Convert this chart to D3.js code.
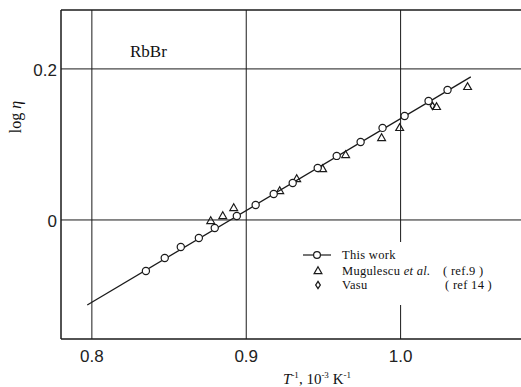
<!DOCTYPE html>
<html lang="en">
<head>
  <meta charset="UTF-8">
  <title>RbBr viscosity</title>
  <style>
    body { margin: 0; background: #fff; }
    .tick-label { font-family: 'Liberation Sans', Arial, sans-serif; font-size: 17px; fill: #222; }
    .serif { font-family: 'Liberation Serif', 'DejaVu Serif', serif; fill: #111; }
  </style>
</head>
<body>
  <div class="canvas"></div>
  <script src="https://d3js.org/d3.v7.min.js"></script>
  <script>
    // this work (circles)
    const workX = [0.835, 0.8472, 0.8576, 0.8693, 0.8796, 0.8939, 0.9061, 0.9178, 0.9301, 0.9463, 0.9586, 0.9741, 0.9883, 1.0026, 1.0181, 1.0304];
    const workY = [-0.0675, -0.0503, -0.0358, -0.0238, -0.0106, 0.0053, 0.0199, 0.0344, 0.049, 0.0689, 0.0848, 0.1033, 0.1219, 0.1377, 0.1576, 0.1722];
    // Mugulescu et al. (triangles)
    const mugX = [0.877, 0.8848, 0.8919, 0.9217, 0.9327, 0.9495, 0.9644, 0.9877, 0.9994, 1.0233, 1.0434];
    const mugY = [-0.0013, 0.0053, 0.0159, 0.0384, 0.0543, 0.0675, 0.0861, 0.1086, 0.1219, 0.1497, 0.1762];
    // Vasu (diamond)
    const vasuX = [1.0207];
    const vasuY = [0.151];
    // fitted line end points
    const fitX = [0.797, 1.0455];
    const fitY = [-0.1126, 0.1894];

    const xTicks = [0.8, 0.9, 1.0];
    const xTickLabels = ['0.8', '0.9', '1.0'];
    const yTicks = [0, 0.2];
    const yTickLabels = ['0', '0.2'];

    const width = 521;
    const height = 387;
    const margin = {top: 10, right: 0, bottom: 48, left: 61};

    const svg = d3.select('.canvas')
      .append('svg')
      .attr('width', width)
      .attr('height', height);

    const x = d3.scaleLinear()
      .domain([0.78, 1.078])
      .range([margin.left, width - margin.right]);

    const y = d3.scaleLinear()
      .domain([-0.1576, 0.278])
      .range([height - margin.bottom, margin.top]);

    const ink = '#1a1a1a';

    // grid lines
    svg.selectAll('line.vgrid')
      .data(xTicks)
      .enter()
      .append('line')
      .attr('class', 'vgrid')
      .attr('x1', d => x(d)).attr('x2', d => x(d))
      .attr('y1', y.range()[1]).attr('y2', y.range()[0])
      .attr('stroke', ink)
      .attr('stroke-width', 1);

    svg.selectAll('line.hgrid')
      .data(yTicks)
      .enter()
      .append('line')
      .attr('class', 'hgrid')
      .attr('x1', x.range()[0]).attr('x2', x.range()[1])
      .attr('y1', d => y(d)).attr('y2', d => y(d))
      .attr('stroke', ink)
      .attr('stroke-width', 1);

    // frame: left, top, bottom
    const frame = svg.append('g')
      .attr('stroke', ink)
      .attr('stroke-width', 1.5);
    frame.append('line')
      .attr('x1', x.range()[0]).attr('x2', x.range()[0])
      .attr('y1', y.range()[1]).attr('y2', y.range()[0]);
    frame.append('line')
      .attr('x1', x.range()[0]).attr('x2', x.range()[1])
      .attr('y1', y.range()[1]).attr('y2', y.range()[1]);
    frame.append('line')
      .attr('x1', x.range()[0]).attr('x2', x.range()[1])
      .attr('y1', y.range()[0]).attr('y2', y.range()[0]);

    // tick labels
    svg.selectAll('text.xt')
      .data(xTicks)
      .enter()
      .append('text')
      .attr('class', 'tick-label xt')
      .attr('x', d => x(d))
      .attr('y', y.range()[0] + 23)
      .attr('text-anchor', 'middle')
      .text((d, i) => xTickLabels[i]);

    svg.selectAll('text.yt')
      .data(yTicks)
      .enter()
      .append('text')
      .attr('class', 'tick-label yt')
      .attr('x', x.range()[0] - 4)
      .attr('y', d => y(d) + 7)
      .attr('text-anchor', 'end')
      .text((d, i) => yTickLabels[i]);

    // axis titles
    const xTitle = svg.append('text')
      .attr('class', 'serif')
      .attr('x', 317)
      .attr('y', 384)
      .attr('text-anchor', 'middle')
      .style('font-size', '15px');
    xTitle.append('tspan').style('font-style', 'italic').text('T');
    xTitle.append('tspan').attr('dy', -6).style('font-size', '9px').text('-1');
    xTitle.append('tspan').attr('dy', 6).text(',  10');
    xTitle.append('tspan').attr('dy', -6).style('font-size', '9px').text('-3');
    xTitle.append('tspan').attr('dy', 6).text(' K');
    xTitle.append('tspan').attr('dy', -6).style('font-size', '9px').text('-1');

    svg.append('text')
      .attr('class', 'serif')
      .attr('transform', 'translate(21, 117) rotate(-90)')
      .attr('text-anchor', 'middle')
      .style('font-size', '16px')
      .html('log <tspan font-style="italic">η</tspan>');

    svg.append('text')
      .attr('class', 'serif')
      .attr('x', 130)
      .attr('y', 57)
      .style('font-size', '17px')
      .text('RbBr');

    // fitted line
    const fit = fitX.map((d, i) => [d, fitY[i]]);
    svg.append('path')
      .datum(fit)
      .attr('fill', 'none')
      .attr('stroke', ink)
      .attr('stroke-width', 1.3)
      .attr('d', d3.line().x(d => x(d[0])).y(d => y(d[1])));

    const triPath = 'M0,-4.2L3.9,2.6L-3.9,2.6Z';
    const diaPath = 'M0,-3.6L2.3,0L0,3.6L-2.3,0Z';

    // triangles
    svg.selectAll('path.mug')
      .data(mugX.map((d, i) => [d, mugY[i]]))
      .enter()
      .append('path')
      .attr('class', 'mug')
      .attr('d', triPath)
      .attr('transform', d => `translate(${x(d[0])}, ${y(d[1])})`)
      .attr('fill', 'none')
      .attr('stroke', ink)
      .attr('stroke-width', 1.2);

    // diamond
    svg.selectAll('path.vasu')
      .data(vasuX.map((d, i) => [d, vasuY[i]]))
      .enter()
      .append('path')
      .attr('class', 'vasu')
      .attr('d', diaPath)
      .attr('transform', d => `translate(${x(d[0])}, ${y(d[1])})`)
      .attr('fill', 'none')
      .attr('stroke', ink)
      .attr('stroke-width', 1.3);

    // circles
    svg.selectAll('circle.work')
      .data(workX.map((d, i) => [d, workY[i]]))
      .enter()
      .append('circle')
      .attr('class', 'work')
      .attr('cx', d => x(d[0]))
      .attr('cy', d => y(d[1]))
      .attr('r', 3.6)
      .attr('fill', '#fff')
      .attr('stroke', ink)
      .attr('stroke-width', 1.2);

    // legend
    const legend = svg.append('g');
    legend.append('rect')
      .attr('x', 300).attr('y', 242)
      .attr('width', 196).attr('height', 63)
      .attr('fill', '#fff');

    legend.append('line')
      .attr('x1', 303).attr('x2', 331)
      .attr('y1', 255).attr('y2', 255)
      .attr('stroke', ink).attr('stroke-width', 1.2);
    legend.append('circle')
      .attr('cx', 317).attr('cy', 255).attr('r', 3.4)
      .attr('fill', '#fff').attr('stroke', ink).attr('stroke-width', 1.2);
    legend.append('path')
      .attr('d', triPath)
      .attr('transform', 'translate(318, 271)')
      .attr('fill', 'none').attr('stroke', ink).attr('stroke-width', 1.2);
    legend.append('path')
      .attr('d', diaPath)
      .attr('transform', 'translate(318, 285)')
      .attr('fill', 'none').attr('stroke', ink).attr('stroke-width', 1.3);

    const lt = (xx, yy, s) => legend.append('text')
      .attr('class', 'serif')
      .attr('x', xx).attr('y', yy)
      .style('font-size', '12.5px')
      .style('letter-spacing', '0.3px')
      .text(s);
    lt(342, 259, 'This work');
    const mugText = lt(342, 275, 'Mugulescu ');
    mugText.append('tspan').style('font-style', 'italic').text('et al.');
    lt(443, 275, '( ref.9 )');
    lt(342, 289, 'Vasu');
    lt(445, 289, '( ref 14 )');
  </script>
</body>
</html>
